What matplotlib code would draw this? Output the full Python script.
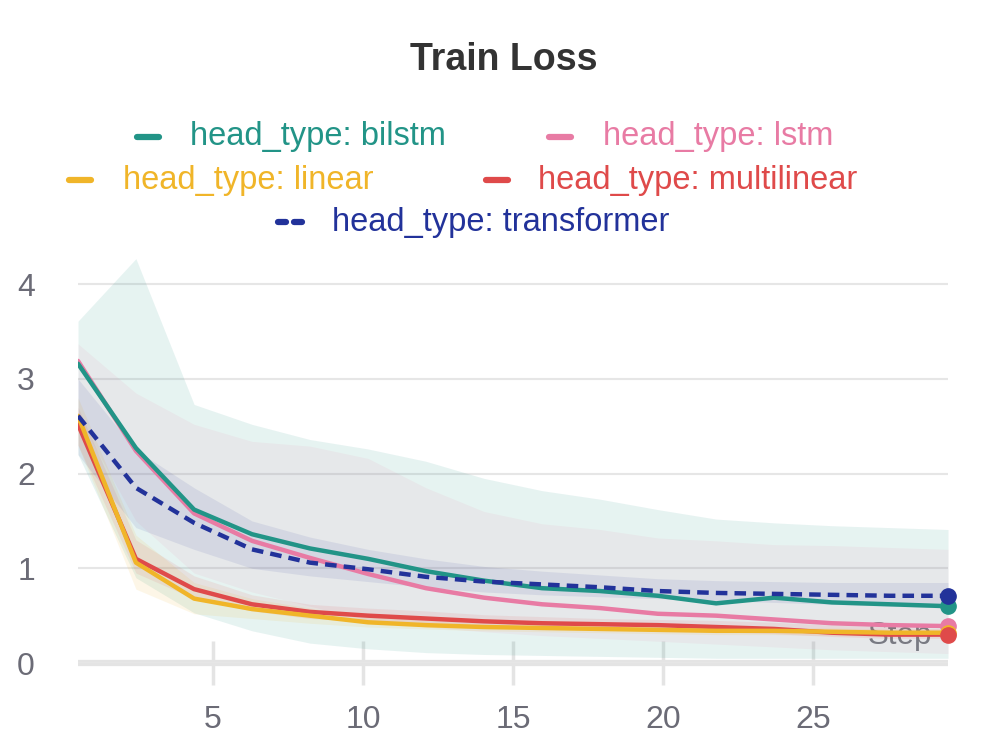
import matplotlib
matplotlib.use("Agg")
import matplotlib.pyplot as plt
from matplotlib.lines import Line2D

plt.rcParams['font.family'] = ['Liberation Sans', 'DejaVu Sans']

# x positions of the logged points
steps = [0.5, 2.43, 4.37, 6.3, 8.23, 10.17, 12.1, 14.03, 15.97, 17.9, 19.83, 21.77, 23.7, 25.63, 27.57, 29.5]

# mean curves
bilstm = [3.16, 2.27, 1.62, 1.36, 1.21, 1.10, 0.97, 0.87, 0.79, 0.76, 0.71, 0.63, 0.69, 0.64, 0.62, 0.60]
lstm = [3.19, 2.24, 1.58, 1.29, 1.11, 0.94, 0.79, 0.69, 0.62, 0.58, 0.52, 0.50, 0.46, 0.42, 0.40, 0.39]
linear = [2.61, 1.06, 0.68, 0.57, 0.50, 0.43, 0.40, 0.38, 0.37, 0.36, 0.35, 0.34, 0.34, 0.33, 0.32, 0.32]
multilinear = [2.52, 1.10, 0.78, 0.62, 0.54, 0.50, 0.47, 0.44, 0.42, 0.41, 0.40, 0.38, 0.36, 0.32, 0.30, 0.30]
transformer = [2.61, 1.85, 1.48, 1.20, 1.06, 0.99, 0.91, 0.86, 0.83, 0.80, 0.76, 0.74, 0.73, 0.72, 0.71, 0.71]

# min / max envelopes
bilstm_lo = [2.20, 0.90, 0.53, 0.34, 0.21, 0.15, 0.11, 0.09, 0.08, 0.07, 0.06, 0.05, 0.05, 0.05, 0.05, 0.05]
bilstm_hi = [3.61, 4.27, 2.73, 2.52, 2.36, 2.26, 2.13, 1.95, 1.82, 1.73, 1.62, 1.52, 1.48, 1.45, 1.43, 1.41]
lstm_lo = [2.60, 1.50, 0.95, 0.75, 0.60, 0.45, 0.38, 0.33, 0.29, 0.26, 0.23, 0.20, 0.17, 0.14, 0.12, 0.10]
lstm_hi = [3.37, 2.85, 2.52, 2.34, 2.29, 2.16, 1.85, 1.60, 1.47, 1.41, 1.32, 1.29, 1.25, 1.24, 1.22, 1.20]
linear_lo = [2.30, 0.78, 0.52, 0.47, 0.42, 0.38, 0.36, 0.34, 0.33, 0.32, 0.31, 0.30, 0.30, 0.29, 0.28, 0.28]
linear_hi = [2.80, 1.35, 0.85, 0.68, 0.58, 0.49, 0.45, 0.42, 0.41, 0.40, 0.39, 0.38, 0.38, 0.37, 0.36, 0.36]
multilinear_lo = [2.30, 0.95, 0.68, 0.55, 0.47, 0.44, 0.41, 0.39, 0.37, 0.36, 0.35, 0.33, 0.31, 0.28, 0.26, 0.26]
multilinear_hi = [2.70, 1.30, 0.92, 0.72, 0.62, 0.58, 0.55, 0.51, 0.49, 0.47, 0.46, 0.45, 0.43, 0.40, 0.38, 0.36]
transformer_lo = [2.20, 1.43, 1.20, 1.00, 0.92, 0.86, 0.80, 0.75, 0.72, 0.70, 0.68, 0.66, 0.64, 0.62, 0.60, 0.58]
transformer_hi = [3.00, 2.25, 1.85, 1.50, 1.33, 1.20, 1.10, 1.02, 0.97, 0.93, 0.89, 0.87, 0.86, 0.85, 0.85, 0.85]

labels = ['head_type: bilstm', 'head_type: lstm', 'head_type: linear',
          'head_type: multilinear', 'head_type: transformer']
colors = {'bilstm': '#229487', 'lstm': '#e87ba4', 'linear': '#f0b529',
          'multilinear': '#df4a4a', 'transformer': '#22329a'}
band_alpha = {'bilstm': 0.11, 'lstm': 0.09, 'linear': 0.11,
              'multilinear': 0.10, 'transformer': 0.09}

series = {
    'bilstm': (bilstm, bilstm_lo, bilstm_hi),
    'lstm': (lstm, lstm_lo, lstm_hi),
    'linear': (linear, linear_lo, linear_hi),
    'multilinear': (multilinear, multilinear_lo, multilinear_hi),
    'transformer': (transformer, transformer_lo, transformer_hi),
}

fig = plt.figure(figsize=(10.08, 7.53), dpi=100)
ax = fig.add_axes([0.0774, 0.1195, 0.8631, 0.5471])

# bands
for name in ['bilstm', 'lstm', 'linear', 'multilinear', 'transformer']:
    mean, lo, hi = series[name]
    ax.fill_between(steps, lo, hi, color=colors[name], alpha=band_alpha[name], lw=0, zorder=1)

# lines
for name in ['lstm', 'bilstm', 'multilinear', 'linear', 'transformer']:
    mean, lo, hi = series[name]
    ls = (0, (2.6, 1.6)) if name == 'transformer' else '-'
    ax.plot(steps, mean, color=colors[name], lw=3.2, ls=ls, zorder=3,
            solid_capstyle='round', solid_joinstyle='round')

# end dots
for name in ['bilstm', 'lstm', 'linear', 'multilinear', 'transformer']:
    mean = series[name][0]
    ax.plot(steps[-1], mean[-1], 'o', color=colors[name], ms=11, zorder=4, clip_on=False)

ax.set_xlim(0.5, 29.5)
ax.set_ylim(0, 4.35)
ax.set_yticks([0, 1, 2, 3, 4])
ax.set_xticks([5, 10, 15, 20, 25])
ax.yaxis.grid(True, color='#e6e6e6', lw=1.5, zorder=0)
ax.set_axisbelow(True)
for s in ['top', 'right', 'left']:
    ax.spines[s].set_visible(False)
ax.spines['bottom'].set_color('#e4e4e4')
ax.spines['bottom'].set_linewidth(4.5)
ax.spines['bottom'].set_capstyle('butt')
ax.spines['bottom'].set_zorder(0.5)

ax.tick_params(axis='y', length=0, pad=31, labelsize=23, labelcolor='#6b6b76')
ax.tick_params(axis='x', direction='inout', length=32, width=2.5, color='#e4e4e4',
               pad=14, labelsize=23, labelcolor='#6b6b76')

ax.text(0.982, 0.065, 'Step', transform=ax.transAxes, ha='right', va='center',
        fontsize=22.5, color='#77777f', zorder=0.8)

fig.text(0.5, 1 - 60 / 753, 'Train Loss', ha='center', va='center',
         fontsize=27, fontweight='bold', color='#333333')

# legend, laid out in rows as in the original
W, H = 1008.0, 753.0
entries = [
    ('bilstm', labels[0], 148, 190, 137),
    ('lstm', labels[1], 560, 603, 137),
    ('linear', labels[2], 80, 123, 180),
    ('multilinear', labels[3], 497, 538, 180),
    ('transformer', labels[4], 290, 332, 222),
]
for name, text, hx, tx, ty in entries:
    yy = 1 - ty / H
    if name == 'transformer':
        for x0, x1 in [(278, 286), (294, 302)]:
            fig.add_artist(Line2D([x0 / W, x1 / W], [yy, yy], color=colors[name], lw=4.5,
                                  solid_capstyle='round', transform=fig.transFigure))
    else:
        fig.add_artist(Line2D([(hx - 11) / W, (hx + 11) / W], [yy, yy], color=colors[name],
                              lw=4.5, solid_capstyle='round', transform=fig.transFigure))
    fig.text(tx / W, yy, text, ha='left', va='center', fontsize=23.5, color=colors[name])

fig.savefig('out.png', dpi=100)
